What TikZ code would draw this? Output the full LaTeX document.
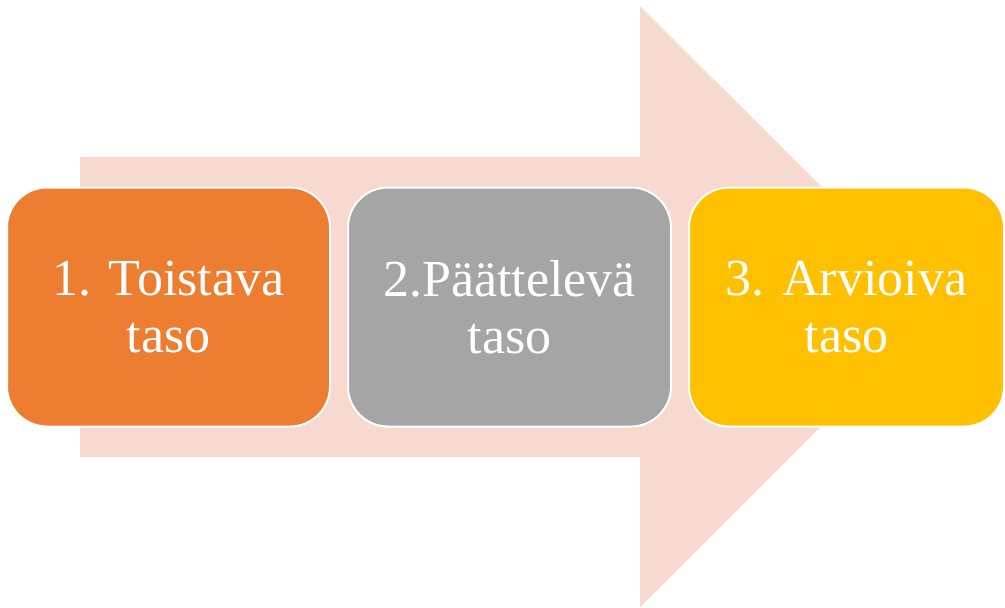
\documentclass[tikz,border=0pt]{standalone}
\usepackage{fontspec}
\setmainfont{Liberation Serif}
\definecolor{arrowpink}{HTML}{F8D9CF}
\definecolor{c1}{HTML}{ED7D31}
\definecolor{c2}{HTML}{A5A5A5}
\definecolor{c3}{HTML}{FFC000}
\tikzset{
  stepbox/.style={draw=white, line width=2pt, rounded corners=40pt, minimum width=323pt, minimum height=239pt, inner sep=0pt, text=white, align=center, font=\fontsize{52}{57}\selectfont},
}
\begin{document}
\begin{tikzpicture}[x=1pt,y=-1pt]
\useasboundingbox (0,0) rectangle (1005,608);
\fill[arrowpink] (80,157) -- (640,157) -- (640,6) -- (941,306) -- (640,607) -- (640,457) -- (80,457) -- cycle;
\node[stepbox, fill=c1] (b1) at (168.5,307) {1. Toistava\\taso};
\node[stepbox, fill=c2] (b2) at (509.5,307) {2.Päättelevä\\taso};
\node[stepbox, fill=c3, minimum width=315pt] (b3) at (846.5,307) {3. Arvioiva\\taso};
\end{tikzpicture}
\end{document}
